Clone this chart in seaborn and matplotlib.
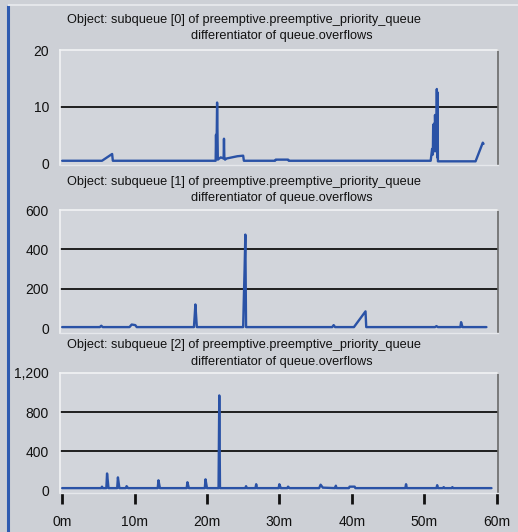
import pandas as pd
import matplotlib
matplotlib.use("Agg")
import matplotlib.pyplot as plt
import seaborn as sns

# subqueue [0]
t0 = [0, 5.5, 6.9, 7.0,
      21.2, 21.25, 21.3, 21.35, 21.4, 21.5, 21.9, 22.3, 22.35, 22.4, 22.5, 22.7,
      24.2, 25.0, 25.1, 29.4, 29.5, 31.2, 31.3,
      50.9, 51.1, 51.2, 51.25, 51.3, 51.4, 51.45, 51.5, 51.6, 51.65, 51.7, 51.75, 51.8, 51.85, 51.9, 52.2,
      57.1, 58.1, 58.2]
v0 = [0.4, 0.4, 1.6, 0.4,
      0.4, 5.0, 1.0, 5.0, 10.7, 0.6, 1.0, 0.8, 4.3, 1.0, 0.6, 0.8,
      1.2, 1.3, 0.4, 0.4, 0.6, 0.6, 0.4,
      0.4, 2.5, 1.5, 6.8, 2.0, 7.0, 2.5, 8.5, 3.0, 8.5, 2.0, 13.1, 1.0, 12.5, 0.3, 0.3,
      0.3, 3.6, 3.4]

# subqueue [1]
t1 = [0,
      5.2, 5.4, 5.6,
      9.3, 9.6, 10.1, 10.3,
      18.2, 18.3, 18.4, 18.6,
      25.0, 25.1, 25.2, 25.3, 25.4, 25.5,
      37.3, 37.5, 37.7,
      40.3, 41.9, 42.0,
      51.5, 51.7, 51.9,
      55.0, 55.1, 55.3,
      58.6]
v1 = [5,
      5, 12, 5,
      5, 18, 15, 5,
      5, 60, 120, 5,
      5, 160, 300, 475, 5, 5,
      5, 15, 5,
      5, 85, 5,
      5, 10, 5,
      5, 30, 5,
      5]

# subqueue [2]
t2 = [0,
      5.4, 5.5, 5.6,
      6.1, 6.2, 6.4,
      7.6, 7.7, 7.9,
      8.8, 8.9, 9.1,
      13.2, 13.3, 13.5,
      17.2, 17.3, 17.5,
      19.7, 19.8, 20.0,
      21.6, 21.7, 21.8,
      25.3, 25.4, 25.5,
      26.7, 26.8, 26.9,
      29.9, 30.0, 30.2,
      31.1, 31.2, 31.4,
      35.5, 35.7, 36.0,
      37.7, 37.8, 37.9,
      39.6, 39.7, 40.4, 40.5,
      47.4, 47.5, 47.6,
      51.7, 51.8, 51.9,
      52.6, 52.7, 52.8,
      53.8, 53.9, 54.0,
      59.3]
v2 = [20,
      20, 35, 20,
      20, 170, 20,
      20, 130, 20,
      20, 40, 20,
      20, 100, 20,
      20, 80, 20,
      20, 110, 20,
      20, 970, 20,
      20, 40, 20,
      20, 60, 20,
      20, 60, 20,
      20, 35, 20,
      20, 55, 25,
      20, 45, 20,
      20, 35, 35, 20,
      20, 60, 20,
      20, 50, 20,
      20, 30, 20,
      20, 30, 20,
      20]

titles = ["Object: subqueue [0] of preemptive.preemptive_priority_queue",
          "Object: subqueue [1] of preemptive.preemptive_priority_queue",
          "Object: subqueue [2] of preemptive.preemptive_priority_queue"]
subtitle = "differentiator of queue.overflows"
yticks = [[0, 10, 20], [0, 200, 400, 600], [0, 400, 800, 1200]]
ytick_labels = [["0", "10", "20"], ["0", "200", "400", "600"], ["0", "400", "800", "1,200"]]
xticks = [0, 10, 20, 30, 40, 50, 60]
xtick_labels = ["0m", "10m", "20m", "30m", "40m", "50m", "60m"]

sns.set_style("white")
plt.rcParams['font.family'] = ['Liberation Sans', 'DejaVu Sans']

W, H = 518, 532
bg = "#cdd0d6"
line_col = "#2a52a6"
txt = "#111111"
fig = plt.figure(figsize=(W / 100, H / 100), dpi=100, facecolor=bg)

# outer frame bits
fig.add_artist(plt.Line2D([8 / W, 8 / W], [0, 1 - 5 / H], color="#2f5bb0", lw=2.2))
fig.add_artist(plt.Line2D([8 / W, 1], [1 - 5 / H, 1 - 5 / H], color="#e4e6ea", lw=1.5))

# (top px, bottom px, ymin) for each panel
boxes = [(50, 165, -0.35), (210, 333, -25), (373, 493, -30)]
title_y = [(20, 36), (182, 198), (345, 362)]
series = [(t0, v0), (t1, v1), (t2, v2)]

for i, ((top, bot, ymin), (tt, vv)) in enumerate(zip(boxes, series)):
    ax = fig.add_axes([60 / W, 1 - bot / H, 438 / W, (bot - top) / H])
    ax.set_facecolor("#d2d5db")
    df = pd.DataFrame({"t": tt, "v": vv})
    sns.lineplot(data=df, x="t", y="v", ax=ax, color=line_col, lw=1.7,
                 sort=False, estimator=None)
    ax.set_xlim(-0.3, 60.2)
    ax.set_ylim(ymin, yticks[i][-1])
    for g in yticks[i][1:-1]:
        ax.axhline(g, color="#111111", lw=1.3, zorder=1)
    ax.set_yticks(yticks[i])
    ax.set_yticklabels(ytick_labels[i], fontsize=10, color=txt)
    ax.tick_params(axis="y", length=0, pad=8)
    ax.set_xlabel("")
    ax.set_ylabel("")
    for side in ["top", "left"]:
        ax.spines[side].set_color("#f2f3f5")
        ax.spines[side].set_linewidth(1.2)
    ax.spines["right"].set_color("#6a6a6a")
    ax.spines["right"].set_linewidth(1.2)
    ax.spines["bottom"].set_color("#e6e8ec")
    ax.spines["bottom"].set_linewidth(1.0)
    if i == 2:
        ax.set_xticks(xticks)
        ax.set_xticklabels(xtick_labels, fontsize=10, color=txt)
        ax.tick_params(axis="x", direction="out", length=8, width=2,
                       color=txt, pad=8, bottom=True)
    else:
        ax.set_xticks([])
    y1, y2 = title_y[i]
    fig.text(67 / W, 1 - y1 / H, titles[i], fontsize=9.2, color=txt,
             va="center", ha="left")
    fig.text(282 / W, 1 - y2 / H, subtitle, fontsize=9.2, color=txt,
             va="center", ha="center")

fig.savefig("out.png", dpi=100, facecolor=bg)
